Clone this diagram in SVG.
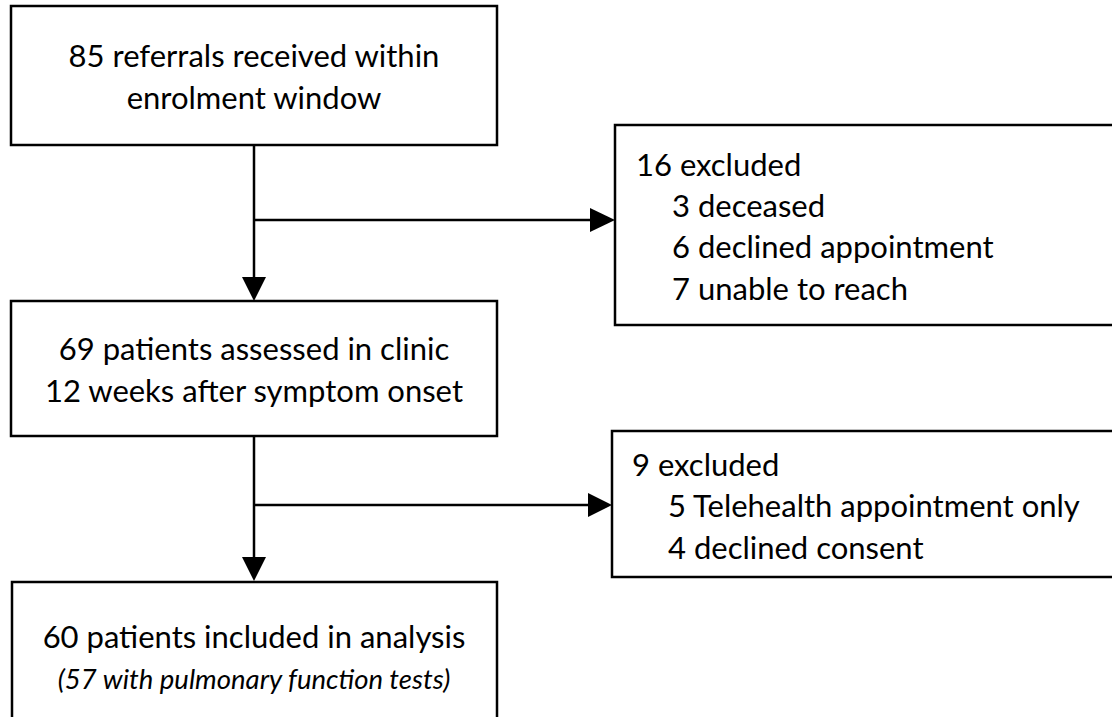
<svg xmlns="http://www.w3.org/2000/svg" width="1112" height="717" viewBox="0 0 1112 717">
<style>
.box{fill:#fff;stroke:#000;stroke-width:2.5}
.t{font-family:Lato,"Liberation Sans",sans-serif;font-size:31px;fill:#000}
.c{text-anchor:middle}
.i{font-style:italic;font-size:27.5px}
.ln{stroke:#000;stroke-width:2.5;fill:none}
</style>
<rect width="1112" height="717" fill="#fff"/>
<g id="connectors">
<path class="ln" d="M254,145 V278"/>
<path d="M242,277 L266,277 L254,301 Z" fill="#000"/>
<path class="ln" d="M254,220 H592"/>
<path d="M590,208 L615,220 L590,232 Z" fill="#000"/>
<path class="ln" d="M254,436 V558"/>
<path d="M242,557 L266,557 L254,581 Z" fill="#000"/>
<path class="ln" d="M254,505 H590"/>
<path d="M588,493 L612,505 L588,517 Z" fill="#000"/>
</g>
<g id="n1">
<rect class="box" x="11" y="6" width="486" height="139"/>
<text class="t c" x="254" y="67">85 referrals received within</text>
<text class="t c" x="254" y="109">enrolment window</text>
</g>
<g id="n2">
<rect class="box" x="615" y="125" width="510" height="200"/>
<text class="t" x="636" y="176">16 excluded</text>
<text class="t" x="672" y="217">3 deceased</text>
<text class="t" x="672" y="258">6 declined appointment</text>
<text class="t" x="672" y="300">7 unable to reach</text>
</g>
<g id="n3">
<rect class="box" x="11" y="301" width="486" height="135"/>
<text class="t c" x="254" y="360">69 patients assessed in clinic</text>
<text class="t c" x="254" y="402">12 weeks after symptom onset</text>
</g>
<g id="n4">
<rect class="box" x="612" y="431" width="510" height="146"/>
<text class="t" x="632" y="476">9 excluded</text>
<text class="t" x="668" y="517">5 Telehealth appointment only</text>
<text class="t" x="668" y="559">4 declined consent</text>
</g>
<g id="n5">
<rect class="box" x="12" y="582" width="485" height="150"/>
<text class="t c" x="254" y="648">60 patients included in analysis</text>
<text class="t c i" x="254" y="689">(57 with pulmonary function tests)</text>
</g>
</svg>
